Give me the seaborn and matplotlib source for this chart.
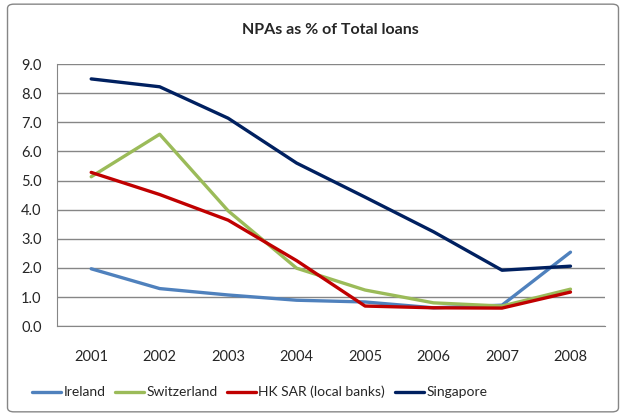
import numpy as np
import pandas as pd
import seaborn as sns
import matplotlib.pyplot as plt
from matplotlib.patches import FancyBboxPatch

years = ["2001", "2002", "2003", "2004", "2005", "2006", "2007", "2008"]
ireland = [1.97, 1.29, 1.07, 0.89, 0.83, 0.63, 0.72, 2.54]
switzerland = [5.13, 6.59, 3.96, 1.99, 1.24, 0.80, 0.69, 1.27]
hk_sar = [5.28, 4.52, 3.64, 2.25, 0.69, 0.63, 0.62, 1.17]
singapore = [8.49, 8.22, 7.14, 5.60, 4.43, 3.24, 1.92, 2.06]

series_names = ["Ireland", "Switzerland", "HK SAR (local banks)", "Singapore"]
colors = ["#4F81BD", "#9BBB59", "#C00000", "#002060"]

df = pd.DataFrame({"Year": years, "Ireland": ireland, "Switzerland": switzerland,
                   "HK SAR (local banks)": hk_sar, "Singapore": singapore})
long = df.melt(id_vars="Year", var_name="Series", value_name="NPA")
long["x"] = long["Year"].map({y: i for i, y in enumerate(years)})

sns.set_style("white")
plt.rcParams["font.family"] = ["Lato", "DejaVu Sans"]

fig = plt.figure(figsize=(6.26, 4.16), dpi=100)
ax = fig.add_axes([0.091, 0.216, 0.875, 0.630])

sns.lineplot(data=long, x="x", y="NPA", hue="Series", hue_order=series_names,
             palette=colors, linewidth=2.4, ax=ax, legend=True)

ax.set_ylim(0, 9)
ax.set_xlim(-0.5, len(years) - 0.5)
ax.set_yticks(np.arange(0, 9.01, 1.0))
ax.set_yticklabels([f"{v:.1f}" for v in np.arange(0, 9.01, 1.0)], fontsize=10.5)
ax.set_xticks(range(len(years)))
ax.set_xticklabels(years, fontsize=10.5)
ax.set_xticks(np.arange(-0.5, len(years), 1.0), minor=True)
ax.tick_params(axis="x", which="major", length=0, pad=17)
ax.tick_params(axis="x", which="minor", length=5, color="#868686", width=1, direction="out")
ax.tick_params(axis="y", length=5, color="#868686", width=1, direction="out", pad=6)
ax.grid(axis="y", color="#868686", linewidth=1)
ax.set_axisbelow(True)
for side in ["top", "right"]:
    ax.spines[side].set_visible(False)
ax.spines["left"].set_color("#868686")
ax.spines["bottom"].set_color("#868686")
ax.set_xlabel("")
ax.set_ylabel("")

ax.set_title("NPAs as % of Total loans", fontsize=11.5, fontweight="bold", pad=22)

handles, labels = ax.get_legend_handles_labels()
ax.legend(handles, labels, loc="upper center", bbox_to_anchor=(0.37, -0.18), ncol=4,
          frameon=False, fontsize=10, handlelength=2.1, handletextpad=0.15,
          columnspacing=0.7)

border = FancyBboxPatch((0.012, 0.01), 0.976, 0.98, boxstyle="round,pad=0,rounding_size=0.01",
                        transform=fig.transFigure, fill=False, edgecolor="#868686", linewidth=1)
fig.patches.append(border)

fig.savefig("out.png", dpi=100)
